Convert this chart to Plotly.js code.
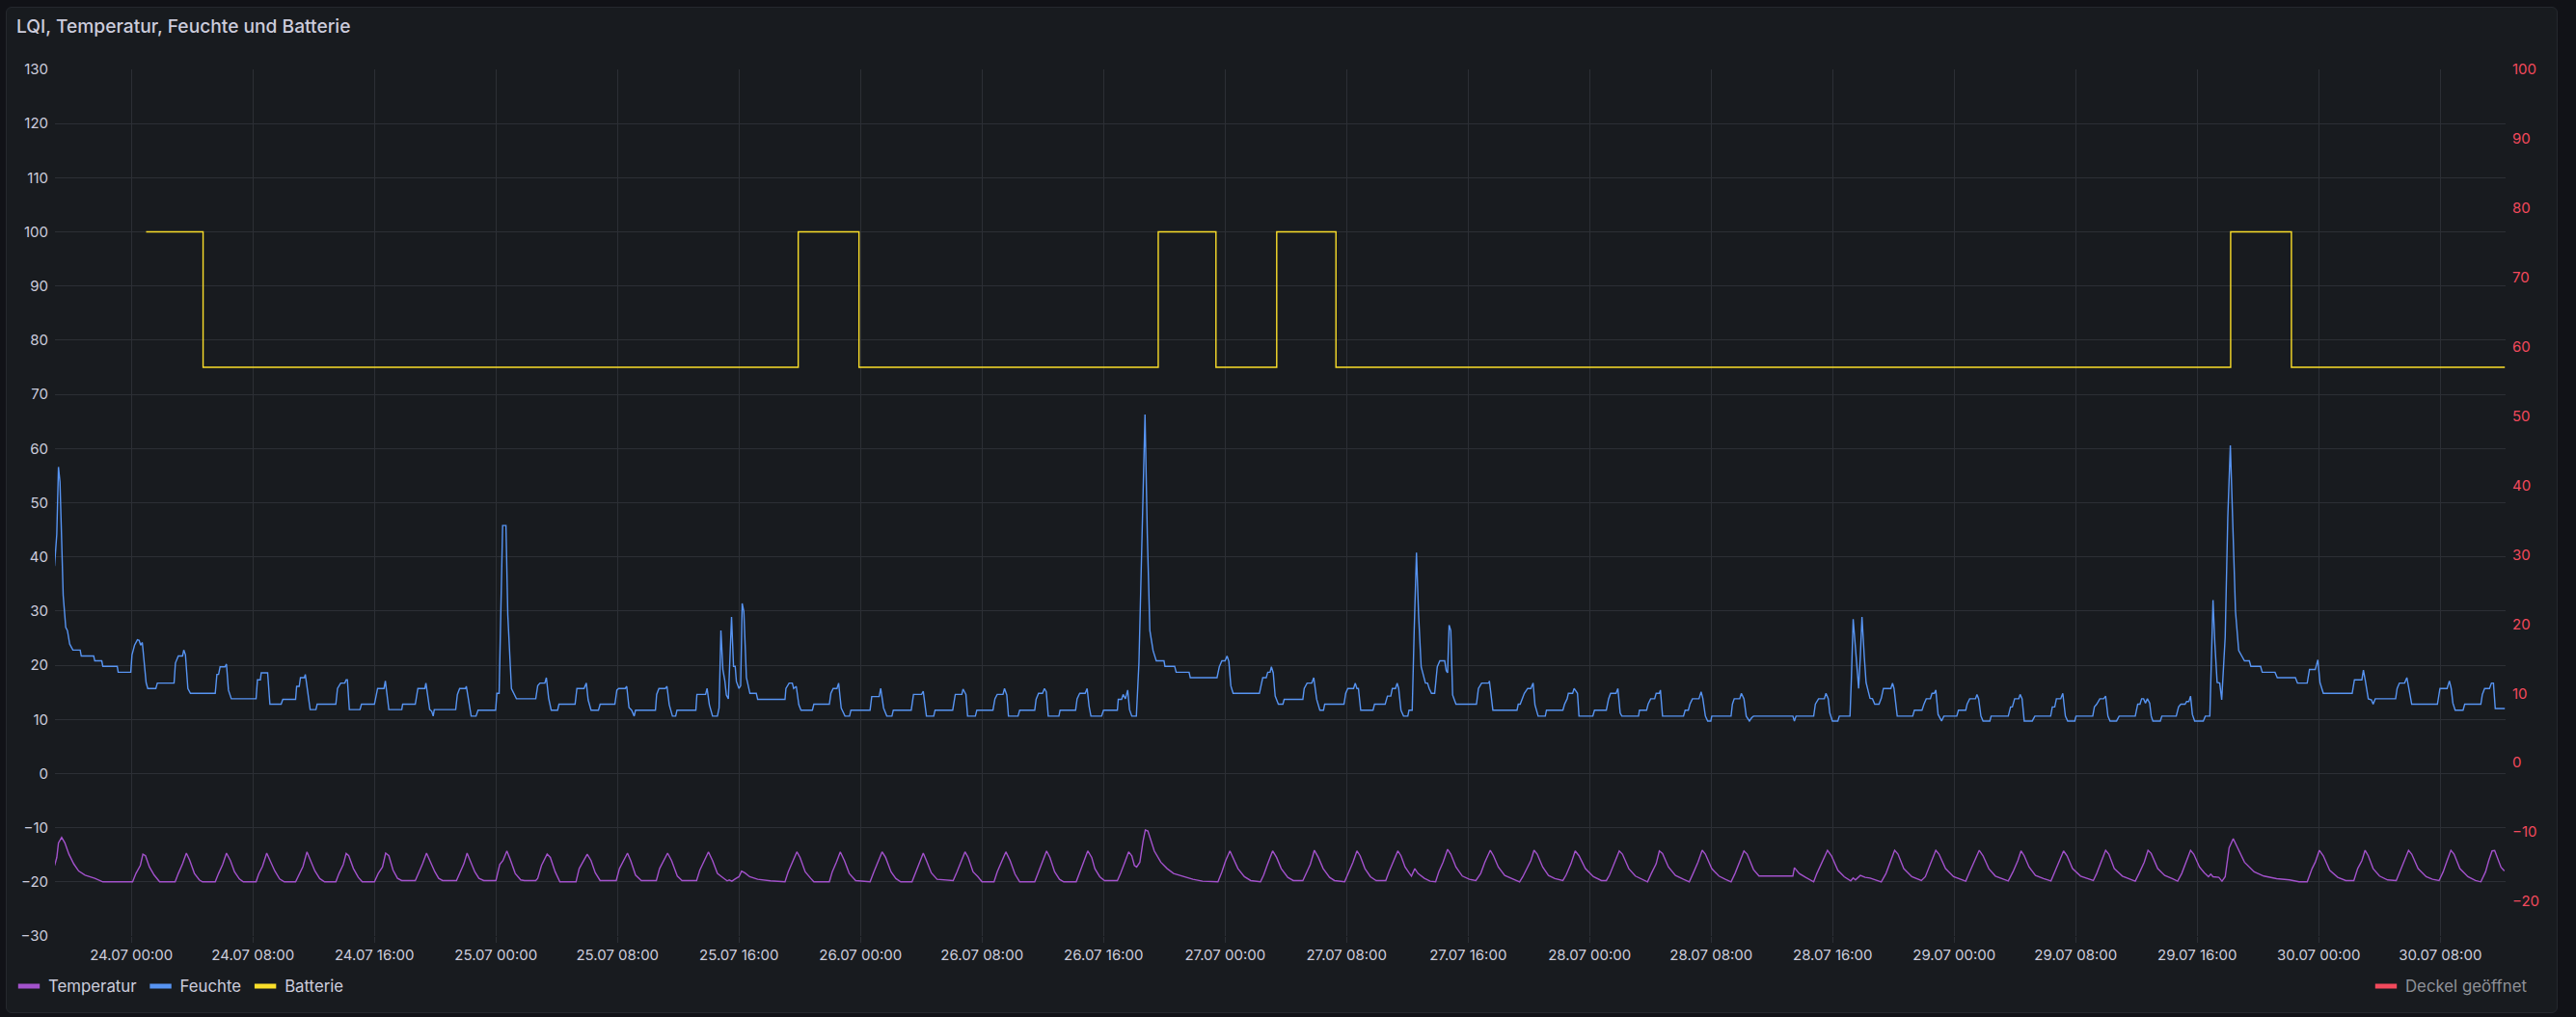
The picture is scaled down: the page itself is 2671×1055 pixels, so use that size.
<!DOCTYPE html>
<html><head><meta charset="utf-8">
<script src="https://cdn.plot.ly/plotly-3.0.1.min.js"></script>
<style>
html,body{margin:0;padding:0;background:#111217;width:2671px;height:1055px;overflow:hidden;}
#panel{position:absolute;left:6px;top:7px;width:2644px;height:1042px;background:#181b1f;border:1px solid #25282e;border-radius:6px;}
#chart{position:absolute;left:0;top:0;width:2671px;height:1055px;}
</style></head><body>
<div id="panel"></div><div id="chart"></div>
<script>
// hours relative to 24.07 00:00
const baseTime = Date.UTC(2024, 6, 24, 0, 0, 0);

const feuchteT = [-5.06,-4.91,-4.80,-4.70,-4.59,-4.49,-4.32,-4.21,-4.06,-3.85,-3.37,-3.30,-2.48,-2.41,-1.95,-1.88,-0.93,-0.87,-0.04,0.04,0.21,0.40,0.51,0.61,0.72,0.97,1.08,1.61,1.71,2.81,2.90,3.09,3.37,3.45,3.56,3.72,3.89,5.52,5.63,5.74,5.84,6.16,6.26,6.39,6.58,8.21,8.30,8.49,8.55,8.97,9.12,9.86,9.97,10.81,10.88,11.05,11.13,11.39,11.45,11.77,12.15,12.23,13.46,13.57,13.78,14.05,14.14,14.22,14.35,15.05,15.15,16.00,16.21,16.63,16.72,16.95,17.80,17.86,18.69,18.86,19.32,19.39,19.64,19.77,19.87,19.94,21.35,21.46,21.61,21.99,22.05,22.26,22.37,22.69,22.82,23.98,24.06,24.21,24.44,24.66,24.78,25.02,25.21,25.35,26.62,26.75,26.90,
27.22,27.32,27.47,27.64,28.06,28.15,29.21,29.33,29.80,29.95,30.07,30.26,30.75,30.86,31.83,31.96,32.08,32.51,32.61,32.76,32.93,33.10,33.19,34.50,34.58,34.73,35.15,35.26,35.41,35.62,35.83,35.92,37.16,37.23,37.80,37.90,38.05,38.26,38.58,38.69,38.81,38.94,39.07,39.17,39.30,39.51,39.64,39.75,39.83,40.00,40.11,40.21,40.32,40.49,40.72,41.14,41.23,43.03,43.09,43.30,43.51,43.60,43.77,43.94,44.08,44.83,44.93,45.95,46.05,46.20,46.45,46.56,46.73,46.98,47.28,47.37,48.63,48.74,49.23,49.33,49.52,49.73,50.07,50.16,51.34,51.49,52.02,52.13,52.27,52.34,52.82,52.91,54.07,54.24,54.67,54.75,54.94,55.05,55.56,55.66,56.72,56.85,57.00,57.38,57.48,57.63,57.74,58.37,58.48,
59.47,59.56,59.72,59.98,60.11,60.23,60.36,61.06,61.14,62.16,62.26,62.43,62.79,62.92,63.05,63.17,63.87,64.00,64.91,64.97,65.19,65.29,65.44,65.59,65.71,65.86,66.16,66.33,66.50,66.73,66.88,67.05,67.26,67.47,67.98,68.04,68.68,68.78,69.63,69.71,71.47,71.62,71.79,72.00,72.13,72.25,72.38,72.53,74.26,74.48,74.71,74.81,74.96,75.05,75.17,75.30,75.51,75.81,75.89,77.12,77.21,77.40,77.71,77.84,78.03,78.24,78.48,78.56,79.83,79.94,80.08,80.46,80.57,80.68,80.78,80.93,81.74,81.84,82.54,82.69,82.91,83.01,83.22,83.33,83.43,83.58,83.75,84.03,84.11,84.32,84.45,84.60,84.74,84.91,85.19,85.33,85.44,85.59,85.80,85.97,86.14,86.46,86.56,86.65,86.75,86.86,86.98,87.20,88.55,88.68,88.89,89.36,89.40,89.63,
91.22,91.30,91.43,91.56,91.70,91.92,92.13,92.28,92.40,92.61,93.08,93.16,94.24,94.35,94.52,94.60,94.88,94.98,95.20,95.30,96.21,96.32,97.10,97.25,97.38,97.74,97.86,98.01,98.12,99.22,99.28,99.75,99.85,100.02,100.28,100.38,100.59,100.66,100.80,102.18,102.29,102.50,102.60,102.77,103.20,103.34,103.45,103.62,103.77,103.98,104.04,105.31,105.40,105.52,105.88,105.99,106.16,106.31,106.52,106.67,106.79,109.38,109.48,109.59,110.75,110.86,111.07,111.45,111.56,111.71,111.81,111.98,112.34,112.44,113.14,113.23,113.35,113.57,113.71,113.82,113.93,114.08,114.20,114.35,114.46,114.62,114.77,115.05,115.20,115.34,115.83,115.94,116.04,116.25,117.27,117.38,117.88,118.01,118.16,118.43,118.54,118.69,118.79,118.94,119.17,119.32,120.17,120.28,120.76,120.85,121.02,121.40,121.50,121.61,121.76,121.90,122.35,122.43,
123.56,123.71,123.83,123.98,124.25,124.34,124.47,124.61,125.14,125.31,126.35,126.46,126.62,126.73,127.01,127.15,127.32,127.47,127.94,128.02,129.12,129.23,129.38,129.59,129.84,129.97,130.12,130.26,130.69,130.86,131.92,132.08,132.23,132.34,132.47,132.59,132.72,132.87,132.97,133.08,133.57,133.67,134.62,134.77,134.92,135.20,135.30,135.45,135.56,135.68,135.83,136.40,136.53,136.83,136.95,137.04,137.16,137.31,137.48,137.61,137.84,138.01,138.18,138.37,138.52,138.73,138.94,139.11,139.43,139.53,140.17,140.28,141.12,141.27,142.46,142.60,143.24,143.39,143.77,143.94,144.08,144.30,146.20,146.35,146.84,146.94,147.05,147.26,147.47,147.58,147.72,149.06,149.16,149.31,149.65,149.80,150.01,150.12,151.81,151.98,152.45,152.60,152.72,152.83,152.98,153.50,153.61,154.67,154.77,154.92,155.24,155.37,155.50,155.62,156.25];
const feuchteV = [38.3,44.2,56.6,53.8,43.0,32.9,27.0,26.4,23.9,22.8,22.8,21.7,21.7,20.8,20.8,19.8,19.8,18.7,18.7,21.9,23.7,24.7,24.6,23.7,24.2,16.8,15.7,15.7,16.7,16.7,20.4,21.7,21.7,22.8,21.9,15.7,14.8,14.8,18.3,18.3,19.7,19.7,20.2,15.4,13.8,13.8,17.3,17.3,18.6,18.6,12.8,12.8,13.7,13.7,16.1,16.1,17.7,17.7,18.3,11.8,11.8,12.8,12.8,15.7,16.7,16.7,17.3,17.3,11.8,11.8,12.8,12.8,15.7,15.7,17.1,11.8,11.8,12.8,12.8,15.7,15.7,16.7,11.8,11.5,10.6,11.8,11.8,14.6,15.7,15.7,16.1,12.3,10.6,10.6,11.7,11.7,14.8,14.8,45.8,45.8,29.3,15.7,14.6,13.8,13.8,16.2,16.7,
16.7,17.7,13.9,11.7,11.7,12.8,12.8,15.7,15.7,16.7,13.6,11.7,11.7,12.8,12.8,15.4,15.7,15.7,16.1,12.2,11.7,10.6,11.7,11.7,14.6,15.7,15.7,16.1,12.7,10.6,10.6,11.7,11.7,14.6,14.6,15.7,12.7,10.6,10.6,12.1,26.4,19.2,17.1,14.5,13.8,28.9,19.8,19.8,17.0,15.7,16.2,31.4,29.9,17.7,14.8,14.8,13.7,13.7,15.7,16.7,16.7,15.7,16.1,12.7,11.7,11.7,12.8,12.8,14.8,15.7,15.7,16.7,12.1,10.6,10.6,11.7,11.7,14.2,14.2,15.7,12.1,10.6,10.6,11.7,11.7,14.6,14.6,15.2,11.5,10.6,10.6,11.7,11.7,14.6,14.6,15.6,14.6,10.6,10.6,11.7,11.7,13.8,14.6,14.6,15.7,14.5,10.6,10.6,11.7,
11.7,13.7,14.8,14.8,15.7,15.1,10.6,10.6,11.7,11.7,13.8,14.8,14.8,15.7,12.4,10.6,10.6,11.7,11.7,13.7,13.7,14.6,13.8,15.4,11.8,10.6,10.6,20.4,38.3,66.3,44.2,26.4,22.7,20.8,20.8,19.8,19.8,18.7,18.7,17.7,17.7,19.7,20.8,20.8,21.7,20.7,16.2,14.8,14.8,17.7,17.7,18.7,18.7,19.7,18.6,14.3,12.8,12.8,13.7,13.7,15.7,16.7,16.7,17.7,13.7,11.7,11.7,12.8,12.8,14.8,15.7,15.7,16.7,15.7,15.7,11.7,11.7,12.8,12.8,14.3,14.3,15.7,15.7,16.7,15.7,11.7,10.6,10.6,11.7,11.7,26.4,40.8,29.3,19.7,16.7,16.7,15.7,14.8,14.8,19.7,20.8,20.8,19.0,18.6,27.4,26.4,14.5,12.8,12.8,15.7,16.7,16.7,17.1,11.7,
11.7,12.8,12.8,13.8,14.8,15.7,15.7,16.7,12.7,10.6,10.6,11.7,11.7,12.8,13.8,14.8,14.8,15.7,14.8,10.6,10.6,11.7,11.7,13.8,14.8,14.8,15.7,11.2,10.6,10.6,11.7,11.7,12.8,13.8,13.8,14.8,14.8,15.4,10.6,10.6,11.7,11.7,12.8,13.8,13.8,15.1,13.9,10.6,9.7,9.7,10.6,10.6,12.8,13.8,13.8,14.8,13.8,10.6,9.7,10.3,10.6,10.6,9.7,10.6,10.6,12.8,13.8,13.8,14.8,13.8,11.2,9.7,9.7,10.6,10.6,17.4,28.5,20.7,15.7,21.6,28.9,21.6,16.8,15.1,13.9,13.8,12.8,12.8,13.9,15.7,15.7,16.7,15.7,10.6,10.6,11.7,11.7,12.8,13.8,13.8,14.8,14.8,15.4,10.9,9.7,10.6,10.6,11.7,11.7,12.8,13.8,13.8,14.6,13.8,10.6,9.7,9.7,10.6,
10.6,12.3,12.3,13.8,13.8,14.6,13.8,9.7,9.7,10.6,10.6,12.3,12.3,13.8,13.8,14.8,10.6,9.7,9.7,10.6,10.6,12.3,12.8,13.8,13.8,14.3,10.6,9.7,9.7,10.6,10.6,12.8,12.8,13.8,13.8,13.0,13.8,13.0,10.6,9.7,9.7,10.6,10.6,12.3,12.8,12.8,13.3,13.3,14.3,10.9,9.7,9.7,10.6,10.6,23.4,32.0,24.0,16.8,16.7,13.6,25.2,47.2,60.6,44.2,29.9,22.7,21.6,20.8,20.8,19.8,19.8,18.7,18.7,17.7,17.7,16.7,16.7,19.2,19.2,21.0,16.8,14.8,14.8,17.3,17.3,19.1,17.4,13.8,13.6,12.8,13.8,13.8,15.7,16.7,16.7,17.7,14.5,12.8,12.8,15.7,15.7,17.1,15.7,13.0,11.7,11.7,12.8,12.8,14.6,15.7,15.7,16.7,16.7,12.0,12.0];

const tempT = [-5.06,-4.91,-4.80,-4.59,-4.38,-4.11,-3.79,-3.47,-3.05,-2.41,-1.88,0.08,0.30,0.59,0.76,0.93,1.19,1.50,1.86,2.88,3.09,3.37,3.62,3.83,4.15,4.47,4.68,5.52,5.74,6.01,6.26,6.52,6.79,7.11,7.37,8.21,8.38,8.63,8.91,9.12,9.44,9.76,10.07,10.81,11.03,11.30,11.56,11.77,12.08,12.40,12.72,13.46,13.67,13.95,14.14,14.31,14.62,14.94,15.20,16.00,16.25,16.53,16.74,16.95,17.23,17.52,17.80,18.69,18.90,19.17,19.43,19.64,19.98,20.23,20.49,21.40,21.61,21.89,22.10,22.31,22.61,22.88,23.20,24.00,24.25,24.46,24.72,24.93,25.27,25.63,25.88,26.62,26.75,27.00,
27.37,27.58,27.90,28.21,29.27,29.48,29.76,30.01,30.26,30.54,30.86,31.92,32.13,32.38,32.66,32.87,33.19,33.57,34.56,34.77,35.05,35.30,35.56,35.94,36.25,37.21,37.42,37.67,37.99,38.26,38.58,38.86,39.22,39.36,39.53,39.79,40.00,40.17,40.38,40.70,41.23,42.07,43.03,43.24,43.51,43.81,44.02,44.36,44.72,44.93,45.95,46.14,46.41,46.67,46.94,47.26,47.68,48.63,48.88,49.16,49.42,49.65,50.01,50.33,50.65,51.39,51.64,51.92,52.13,52.34,52.66,53.04,54.10,54.35,54.60,54.88,55.09,55.41,55.73,56.00,56.79,57.00,57.32,57.57,57.85,58.17,58.48,
59.47,59.72,59.98,60.25,60.47,60.78,61.10,61.38,62.20,62.43,62.69,62.96,63.22,63.43,63.75,64.06,64.91,65.12,65.40,65.65,65.86,66.03,66.18,66.39,66.60,66.75,66.92,67.13,67.34,67.77,68.19,68.61,69.25,69.88,70.52,71.53,71.79,72.04,72.32,72.53,72.85,73.27,73.69,74.33,74.54,74.79,75.13,75.39,75.70,76.13,76.49,77.12,77.34,77.61,77.88,78.14,78.46,78.88,79.20,79.87,80.15,80.42,80.68,80.89,81.21,81.57,81.95,82.58,82.79,83.11,83.37,83.58,83.85,84.11,84.27,84.49,84.70,85.12,85.50,85.86,86.07,86.35,86.65,86.86,87.20,87.62,88.08,88.51,88.83,89.10,89.46,89.67,89.99,90.41,90.84,91.26,
91.39,91.60,91.92,92.13,92.34,92.55,92.91,93.29,93.71,94.24,94.45,94.77,95.05,95.30,95.72,96.25,96.78,97.10,97.31,97.63,97.95,98.16,98.58,99.01,99.43,99.81,100.06,100.38,100.59,100.80,101.19,101.65,102.18,102.56,102.81,103.13,103.41,103.62,104.04,104.51,104.93,105.31,105.57,105.88,106.16,106.37,106.79,107.15,109.38,109.48,109.80,110.22,110.75,110.96,111.28,111.66,111.92,112.34,112.76,113.19,113.35,113.50,113.82,114.14,114.46,114.77,115.20,115.51,115.83,116.08,116.30,116.68,117.21,117.84,118.10,118.48,118.79,119.00,119.43,119.96,120.49,120.76,121.02,121.33,121.65,121.90,122.28,122.71,123.34,
123.56,123.87,124.19,124.40,124.61,124.93,125.35,125.88,126.37,126.62,126.94,127.20,127.43,127.79,128.32,128.74,129.16,129.38,129.69,129.97,130.18,130.54,131.07,131.49,131.92,132.17,132.51,132.76,132.97,133.40,133.86,134.35,134.71,134.98,135.26,135.56,135.77,136.15,136.47,136.74,136.89,137.04,137.42,137.63,137.84,138.10,138.37,138.69,139.11,139.75,140.38,141.23,142.07,142.71,143.24,143.56,143.77,144.04,144.30,144.72,145.25,145.78,146.31,146.56,146.84,147.05,147.26,147.58,148.00,148.53,149.10,149.38,149.65,149.91,150.12,150.54,151.07,151.49,151.92,152.19,152.45,152.70,152.91,153.29,153.82,154.31,154.67,154.98,155.19,155.41,155.58,155.75,156.00,156.22];
const tempV = [-17.0,-15.5,-12.8,-11.8,-12.8,-14.9,-16.7,-18.0,-18.75,-19.35,-20,-20,-18.45,-16.96,-14.88,-15.18,-17.26,-18.75,-20,-20,-18.45,-16.67,-14.70,-15.95,-18.45,-19.64,-20,-20,-18.45,-16.79,-14.70,-16.07,-18.15,-19.46,-20,-20,-18.57,-17.14,-14.70,-16.07,-17.98,-19.46,-20,-20,-18.57,-17.14,-14.46,-15.77,-17.98,-19.40,-20,-20,-18.45,-16.79,-14.76,-15.18,-17.56,-19.17,-20,-20,-18.45,-17.26,-14.70,-15.18,-17.86,-19.35,-19.76,-19.76,-18.45,-16.67,-14.70,-16.07,-18.15,-19.35,-19.76,-19.76,-18.45,-16.67,-14.70,-16.07,-18.15,-19.35,-19.76,-19.76,-16.79,-16.07,-14.29,-15.77,-18.45,-19.64,-19.76,-19.76,-19.35,-16.96,
-14.88,-15.48,-18.15,-20,-20,-17.56,-16.07,-14.88,-16.07,-18.33,-19.76,-19.76,-17.56,-16.07,-14.70,-16.07,-18.75,-19.76,-19.76,-17.56,-16.07,-14.70,-16.07,-18.93,-19.76,-19.76,-17.86,-16.37,-14.46,-16.07,-18.45,-19.05,-19.82,-19.64,-19.88,-19.40,-19.05,-18.04,-18.33,-19.05,-19.52,-19.82,-20,-18.15,-16.37,-14.46,-15.48,-18.15,-19.35,-20,-20,-18.15,-16.37,-14.46,-16.07,-18.45,-19.76,-20,-18.15,-16.37,-14.46,-15.48,-18.15,-19.40,-20,-20,-18.15,-16.37,-14.70,-16.07,-18.33,-19.52,-19.76,-18.15,-16.37,-14.46,-15.48,-18.15,-19.05,-20,-20,-18.15,-16.07,-14.46,-16.07,-18.57,-20,
-20,-18.15,-16.37,-14.29,-15.48,-18.15,-19.52,-20,-20,-18.15,-16.37,-14.29,-15.48,-17.56,-19.05,-19.76,-19.76,-18.45,-16.37,-14.46,-15.18,-16.96,-17.26,-16.37,-12.50,-10.42,-10.60,-12.50,-14.29,-16.37,-17.56,-18.45,-19.05,-19.52,-19.88,-20,-18.15,-16.07,-14.29,-15.48,-17.56,-19.05,-19.76,-20,-18.75,-16.79,-14.29,-15.48,-17.56,-19.17,-19.76,-19.76,-18.45,-16.79,-14.17,-15.48,-17.56,-19.17,-19.76,-20,-18.15,-16.37,-14.29,-15.18,-17.56,-19.05,-19.76,-19.76,-18.15,-16.07,-14.29,-15.18,-17.26,-18.33,-18.93,-17.56,-18.45,-19.35,-19.88,-20,-18.15,-16.37,-13.99,-14.88,-17.26,-18.93,-19.52,-19.76,-18.45,-16.37,-14.17,-15.18,-17.26,-18.81,-19.35,-19.76,
-20,-19.05,-17.26,-16.07,-14.17,-14.88,-17.26,-18.81,-19.40,-19.76,-18.75,-16.67,-14.29,-15.18,-17.56,-19.05,-19.76,-19.76,-18.75,-16.37,-14.29,-14.88,-17.56,-18.93,-19.52,-20,-18.45,-16.67,-14.29,-14.76,-17.26,-18.81,-19.52,-20,-18.45,-16.37,-14.17,-14.88,-17.56,-18.93,-19.52,-20,-18.45,-16.37,-14.29,-14.88,-17.74,-18.93,-18.93,-17.38,-18.45,-19.17,-20,-18.45,-16.37,-14.17,-15.18,-17.86,-19.05,-19.82,-19.29,-19.64,-18.81,-19.17,-19.29,-19.64,-20,-18.45,-16.07,-14.17,-14.88,-17.56,-19.05,-19.76,-19.05,-16.37,-14.17,-14.88,-17.56,-19.05,-19.64,-19.88,-18.15,-16.07,-14.17,-15.18,-17.56,-18.93,-19.52,
-19.82,-18.15,-16.07,-14.29,-15.18,-17.26,-18.81,-19.40,-19.82,-18.15,-16.07,-14.29,-15.18,-17.56,-18.93,-19.40,-19.76,-18.45,-16.37,-14.17,-14.88,-17.56,-18.93,-19.40,-19.88,-18.45,-16.37,-14.17,-14.76,-17.56,-18.81,-19.40,-19.88,-18.45,-16.37,-14.17,-14.88,-17.26,-18.33,-19.05,-18.57,-19.05,-19.17,-19.88,-19.05,-13.69,-12.02,-13.99,-16.37,-18.15,-18.93,-19.40,-19.64,-20,-20,-17.56,-16.37,-14.17,-15.18,-17.86,-19.17,-19.76,-19.76,-17.56,-16.07,-14.17,-15.18,-17.56,-18.93,-19.64,-19.76,-17.86,-16.07,-14.17,-14.88,-17.56,-19.05,-19.52,-19.76,-18.15,-16.07,-14.17,-14.88,-17.56,-19.05,-19.76,-20,-18.15,-16.07,-14.29,-14.2,-15.5,-17.3,-18.0];

const battT = [0.97, 4.72, 43.9, 47.9, 67.6, 71.4, 75.4, 79.3, 138.2, 142.2, 156.25];
const battV = [100, 75, 100, 75, 100, 75, 100, 75, 100, 75, 75];

const deckelT = [-5.03, 156.3];
const deckelV = [null, null];

const seriesNames = ['Temperatur', 'Feuchte', 'Batterie', 'Deckel geöffnet'];
const seriesColors = ['#a352cc', '#5794f2', '#fade2a', '#f2495c'];
const xRangeH = [-5.03, 156.3];

function toDate(h) {
  return new Date(baseTime + Math.round(h * 3600000)).toISOString().replace('T', ' ').replace('Z', '');
}

const FONT = 'Inter, "Noto Sans", sans-serif';
const GRID = '#2c2f35';
const TXT = '#ccccdc';

function legendSwatch(i, legendId, yaxis) {
  const t = {x: [null], y: [null], name: seriesNames[i], mode: 'markers', legend: legendId,
             marker: {symbol: 'line-ew', size: 16, color: seriesColors[i], line: {color: seriesColors[i], width: 5}}};
  if (yaxis) t.yaxis = yaxis;
  return t;
}

const traces = [
  {x: feuchteT.map(toDate), y: feuchteV, name: seriesNames[1], mode: 'lines', line: {color: seriesColors[1], width: 1.4}, showlegend: false, hoverinfo: 'skip'},
  {x: tempT.map(toDate), y: tempV, name: seriesNames[0], mode: 'lines', line: {color: seriesColors[0], width: 1.4}, showlegend: false, hoverinfo: 'skip'},
  {x: battT.map(toDate), y: battV, name: seriesNames[2], mode: 'lines', line: {color: seriesColors[2], width: 1.4, shape: 'hv'}, showlegend: false, hoverinfo: 'skip'},
  {x: deckelT.map(toDate), y: deckelV, name: seriesNames[3], mode: 'lines', yaxis: 'y2', line: {color: seriesColors[3], width: 1.4}, showlegend: false, hoverinfo: 'skip'},
  legendSwatch(0, 'legend'),
  legendSwatch(1, 'legend'),
  legendSwatch(2, 'legend'),
  legendSwatch(3, 'legend2', 'y2')
];

const layout = {
  width: 2671, height: 1055,
  paper_bgcolor: 'rgba(0,0,0,0)', plot_bgcolor: 'rgba(0,0,0,0)',
  margin: {l: 57, r: 73, t: 72, b: 84, pad: 0},
  font: {family: FONT, size: 15, color: TXT},
  title: {text: 'LQI, Temperatur, Feuchte und Batterie', font: {family: FONT, size: 19.2, color: TXT, weight: 500},
          xref: 'container', yref: 'container', x: 17/2671, xanchor: 'left', y: 1 - 27.5/1055, yanchor: 'middle'},
  xaxis: {type: 'date', range: xRangeH.map(toDate), tick0: toDate(0), dtick: 8*3600000, tickformat: '%d.%m %H:%M',
          showgrid: true, gridcolor: GRID, gridwidth: 1, zeroline: false, showline: false,
          ticks: 'outside', ticklen: 6, tickcolor: GRID, tickfont: {family: FONT, size: 15, color: TXT}},
  yaxis: {range: [-30, 130], tick0: 0, dtick: 10, showgrid: true, gridcolor: GRID, gridwidth: 1, zeroline: false, showline: false,
          ticks: '', ticklabelstandoff: 6, tickfont: {family: FONT, size: 15, color: TXT}},
  yaxis2: {range: [-25, 100], tick0: 0, dtick: 10, overlaying: 'y', side: 'right', showgrid: false, zeroline: false, showline: false,
           ticks: '', ticklabelstandoff: 6, tickfont: {family: FONT, size: 15, color: '#f2495c'}},
  legend: {orientation: 'h', xref: 'container', yref: 'container', x: 10/2671, xanchor: 'left', y: 1 - 1023/1055, yanchor: 'middle',
           font: {family: FONT, size: 16.8, color: TXT}, bgcolor: 'rgba(0,0,0,0)', itemwidth: 30, traceorder: 'normal'},
  legend2: {orientation: 'h', xref: 'container', yref: 'container', x: 2626/2671, xanchor: 'right', y: 1 - 1023/1055, yanchor: 'middle',
           font: {family: FONT, size: 16.8, color: '#8e9097'}, bgcolor: 'rgba(0,0,0,0)', itemwidth: 30},
  showlegend: true
};

Plotly.newPlot('chart', traces, layout, {displayModeBar: false, staticPlot: true});
</script>
</body></html>
